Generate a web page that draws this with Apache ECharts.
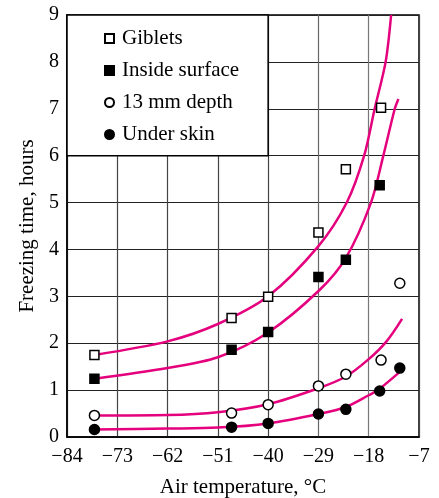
<!DOCTYPE html>
<html><head><meta charset="utf-8">
<script src="https://cdn.jsdelivr.net/npm/echarts@6/dist/echarts.min.js"></script>
<style>html,body{margin:0;padding:0;background:#fff}#c{width:439px;height:498px}</style>
</head><body><div id="c"></div>
<script>
// Axis ranges (air temperature °C, freezing time hours)
const X_MIN = -84, X_MAX = -7, X_STEP = 11;
const Y_MIN = 0, Y_MAX = 9, Y_STEP = 1;
const xAxisTitle = 'Air temperature, \u00B0C';
const yAxisTitle = 'Freezing time, hours';
const seriesNames = ['Giblets', 'Inside surface', '13 mm depth', 'Under skin'];

// Measured points
const gibletsT = [-78, -48, -40, -29, -23, -15.3];
const gibletsV = [1.75, 2.54, 2.99, 4.36, 5.71, 7.02];
const insideT = [-78, -48, -40, -29, -23, -15.6];
const insideV = [1.24, 1.86, 2.24, 3.41, 3.78, 5.37];
const depthT = [-78, -48, -40, -29, -23, -15.3, -11.2];
const depthV = [0.46, 0.51, 0.69, 1.09, 1.34, 1.64, 3.28];
const skinT = [-78, -48, -40, -29, -23, -15.6, -11.2];
const skinV = [0.16, 0.21, 0.29, 0.49, 0.59, 0.98, 1.47];

// Fitted curves
const gibletsCurveT = [-78, -62, -51, -40, -29, -22.8, -19.0, -16.7, -14.3, -13.1];
const gibletsCurveV = [1.75, 2.04, 2.41, 3.0, 4.07, 5.0, 6.0, 7.0, 8.0, 9.0];
const insideCurveT = [-78, -62, -51, -40, -28.7, -23, -17.5, -14.8, -12.3, -11.5];
const insideCurveV = [1.24, 1.47, 1.70, 2.23, 3.14, 3.82, 5.0, 6.0, 7.0, 7.21];
const depthCurveT = [-78, -62, -51, -40, -29, -23, -18, -14.1, -10.7];
const depthCurveV = [0.46, 0.47, 0.53, 0.70, 1.04, 1.29, 1.66, 2.04, 2.52];
const skinCurveT = [-78, -62, -51, -40, -29, -23, -18, -16, -11.2];
const skinCurveV = [0.16, 0.18, 0.20, 0.29, 0.49, 0.64, 0.89, 1.0, 1.39];

// Legend box region
const legendBoxT = [-84, -40];
const legendBoxV = [6, 9];

const FONT = '"Liberation Serif", "DejaVu Serif", serif';
const PINK = '#e5007d';
const off = t => t - X_MIN; // shift so the axis starts at a multiple of the interval
const pairs = (ts, vs) => ts.map((t, i) => [off(t), vs[i]]);
const minus = v => (v < 0 ? '\u2212' + Math.abs(v) : String(v));

function curve(ts, vs) {
  return {
    type: 'line', data: pairs(ts, vs), smooth: 0.3,
    symbol: 'none', silent: true, z: 2,
    lineStyle: { color: PINK, width: 2.5 }
  };
}
function pts(name, ts, vs, symbol, fill, size) {
  return {
    name, type: 'scatter', data: pairs(ts, vs), symbol, symbolSize: size, z: 5,
    itemStyle: { color: fill, borderColor: '#000', borderWidth: 1.5, opacity: 1 }
  };
}

const chart = echarts.init(document.getElementById('c'), null, { renderer: 'canvas' });
chart.setOption({
  animation: false,
  backgroundColor: '#fff',
  grid: { left: 67, right: 20, top: 15, bottom: 61, outerBoundsMode: 'none', containLabel: false,
    show: true, borderColor: '#000', borderWidth: 1.5, backgroundColor: 'transparent' },
  xAxis: {
    type: 'value', min: 0, max: X_MAX - X_MIN, interval: X_STEP,
    name: xAxisTitle, nameLocation: 'middle', nameGap: 40,
    nameTextStyle: { fontFamily: FONT, fontSize: 21, color: '#000' },
    axisLine: { show: true, onZero: false, lineStyle: { color: '#000', width: 1.5 } },
    axisTick: { show: false },
    axisLabel: { formatter: v => minus(v + X_MIN), fontFamily: FONT, fontSize: 20, color: '#000', margin: 10 },
    splitLine: { show: true, lineStyle: { color: ['#444', '#444', '#444', '#444', '#444', '#666', '#777'], width: 1.2 } }
  },
  yAxis: {
    type: 'value', min: Y_MIN, max: Y_MAX, interval: Y_STEP,
    name: yAxisTitle, nameLocation: 'middle', nameGap: 29,
    nameTextStyle: { fontFamily: FONT, fontSize: 21, color: '#000' },
    axisLine: { show: true, onZero: false, lineStyle: { color: '#000', width: 1.5 } },
    axisTick: { show: false },
    axisLabel: { fontFamily: FONT, fontSize: 20, color: '#000', margin: 8 },
    splitLine: { show: true, lineStyle: { color: '#222', width: 1.2 } }
  },
  legend: {
    data: seriesNames, orient: 'vertical', left: 99, top: 23,
    itemWidth: 9, itemHeight: 9, itemGap: 11,
    textStyle: { fontFamily: FONT, fontSize: 21, color: '#000', padding: [0, 0, 0, 3] },
    selectedMode: false
  },
  series: [
    {
      type: 'line', data: [], silent: true, z: 1,
      markArea: {
        silent: true,
        itemStyle: { color: '#fff', borderColor: '#000', borderWidth: 1.5 },
        data: [[{ coord: [off(legendBoxT[0]), legendBoxV[0]] }, { coord: [off(legendBoxT[1]), legendBoxV[1]] }]]
      }
    },
    curve(gibletsCurveT, gibletsCurveV),
    curve(insideCurveT, insideCurveV),
    curve(depthCurveT, depthCurveV),
    curve(skinCurveT, skinCurveV),
    pts(seriesNames[0], gibletsT, gibletsV, 'rect', '#fff', 9),
    pts(seriesNames[1], insideT, insideV, 'rect', '#000', 9),
    pts(seriesNames[2], depthT, depthV, 'circle', '#fff', 10),
    pts(seriesNames[3], skinT, skinV, 'circle', '#000', 10)
  ]
});
</script></body></html>
